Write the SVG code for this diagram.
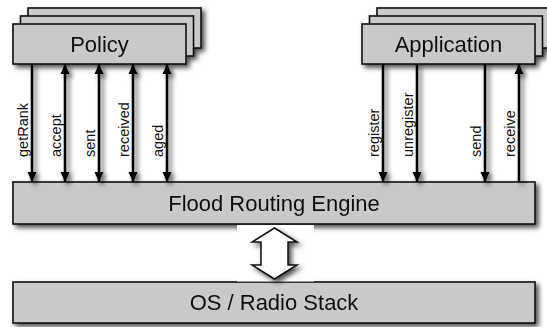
<svg xmlns="http://www.w3.org/2000/svg" width="547" height="327" viewBox="0 0 547 327">
  <defs>
    <filter id="shadow" x="-20%" y="-20%" width="140%" height="160%">
      <feDropShadow dx="3" dy="3" stdDeviation="2.6" flood-color="#000" flood-opacity="0.7"/>
    </filter>
    <marker id="head" viewBox="0 0 10 10" refX="10" refY="5" markerWidth="10" markerHeight="10" markerUnits="userSpaceOnUse" orient="auto-start-reverse">
      <path d="M0,0.5 L10,5 L0,9.5 Z" fill="#000"/>
    </marker>
    <style>
      .box { fill: #c9c9c9; stroke: #111; stroke-width: 1.6; }
      .title { font-family: "Liberation Sans", Arial, sans-serif; font-size: 22px; fill: #111; text-anchor: middle; }
      .lbl { font-family: "Liberation Sans", Arial, sans-serif; font-size: 14.5px; fill: #111; }
      .wire { stroke: #000; stroke-width: 2.5; fill: none; }
    </style>
  </defs>

  <rect width="547" height="327" fill="#fff"/>

  <!-- Policy stack -->
  <g id="policy" filter="url(#shadow)">
    <rect class="box" x="28" y="8" width="173" height="40"/>
    <rect class="box" x="20.5" y="16" width="173" height="40"/>
    <rect class="box" x="13" y="24" width="173" height="40"/>
    <text class="title" x="99.5" y="52">Policy</text>
  </g>

  <!-- Application stack -->
  <g id="application" filter="url(#shadow)">
    <rect class="box" x="377" y="8" width="173" height="40"/>
    <rect class="box" x="369.5" y="16" width="173" height="40"/>
    <rect class="box" x="362" y="24" width="173" height="40"/>
    <text class="title" x="448.5" y="52">Application</text>
  </g>

  <!-- Flood Routing Engine -->
  <g id="engine" filter="url(#shadow)">
    <rect class="box" x="13" y="182" width="522" height="42"/>
    <text class="title" x="274" y="211">Flood Routing Engine</text>
  </g>

  <!-- OS / Radio Stack -->
  <g id="os" filter="url(#shadow)">
    <rect class="box" x="13" y="282" width="522" height="41"/>
    <text class="title" x="274" y="310">OS / Radio Stack</text>
  </g>

  <!-- Interface calls between components and the engine -->
  <g id="connectors">
    <g filter="url(#shadow)">
      <line class="wire" x1="32" y1="64" x2="32" y2="182" marker-end="url(#head)"/>
      <line class="wire" x1="65" y1="64" x2="65" y2="182" marker-start="url(#head)" marker-end="url(#head)"/>
      <line class="wire" x1="99" y1="64" x2="99" y2="182" marker-start="url(#head)" marker-end="url(#head)"/>
      <line class="wire" x1="133" y1="64" x2="133" y2="182" marker-start="url(#head)" marker-end="url(#head)"/>
      <line class="wire" x1="167" y1="64" x2="167" y2="182" marker-start="url(#head)" marker-end="url(#head)"/>
      <line class="wire" x1="383" y1="64" x2="383" y2="182" marker-end="url(#head)"/>
      <line class="wire" x1="417" y1="64" x2="417" y2="182" marker-end="url(#head)"/>
      <line class="wire" x1="485" y1="64" x2="485" y2="182" marker-end="url(#head)"/>
      <line class="wire" x1="519" y1="182" x2="519" y2="64" marker-end="url(#head)"/>
    </g>
    <g class="labels">
      <text class="lbl" transform="translate(27.5,157) rotate(-90)">getRank</text>
      <text class="lbl" transform="translate(60.5,157) rotate(-90)">accept</text>
      <text class="lbl" transform="translate(94.5,157) rotate(-90)">sent</text>
      <text class="lbl" transform="translate(128.5,157) rotate(-90)">received</text>
      <text class="lbl" transform="translate(162.5,157) rotate(-90)">aged</text>
      <text class="lbl" transform="translate(378.5,157) rotate(-90)">register</text>
      <text class="lbl" transform="translate(412.5,157) rotate(-90)">unregister</text>
      <text class="lbl" transform="translate(480.5,157) rotate(-90)">send</text>
      <text class="lbl" transform="translate(514.5,157) rotate(-90)">receive</text>
    </g>
    <!-- two-way link between engine and OS stack -->
    <rect x="237" y="225" width="77" height="56.5" fill="#fff"/>
    <path filter="url(#shadow)" d="M274.5,228 L297,242 L288,242 L288,265 L297,265 L274.5,279 L252,265 L261,265 L261,242 L252,242 Z" fill="#fff" stroke="#111" stroke-width="1.5" stroke-linejoin="miter"/>
  </g>
</svg>
